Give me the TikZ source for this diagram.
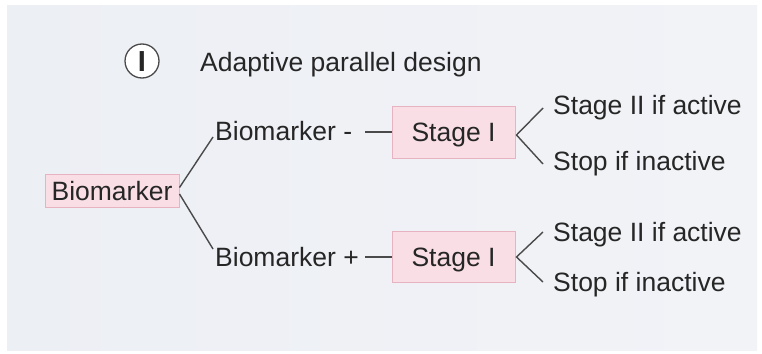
\documentclass[tikz,border=0pt]{standalone}
\usepackage{fontspec}
\setmainfont{Liberation Sans}
\definecolor{txt}{HTML}{262626}
\definecolor{linec}{HTML}{4A4A4A}
\definecolor{boxfill}{HTML}{F9DFE5}
\definecolor{boxline}{HTML}{E8B3C0}
\definecolor{bgl}{HTML}{ECEFF4}
\definecolor{bgr}{HTML}{F2F3F7}
\begin{document}
\begin{tikzpicture}[x=1pt,y=-1pt,
  every node/.style={font=\fontsize{26.5}{30}\selectfont, text=txt, text height=19pt, text depth=0pt},
  lbl/.style={anchor=west, inner sep=0pt},
  pinkbox/.style={draw=boxline, fill=boxfill, line width=1pt, inner sep=0pt},
  conn/.style={draw=linec, line width=1.4pt}]
\useasboundingbox (0,0) rectangle (762,353);
\fill[white] (0,0) rectangle (762,353);
\shade[left color=bgl, right color=bgr] (7,6) rectangle (757,350);

\node[circle, draw=linec, fill=white, line width=1.3pt, minimum size=34pt, inner sep=0pt, text height=21pt, font=\fontsize{29}{29}\selectfont\bfseries] (num) at (142,61) {I};
\node[lbl] (title) at (200,62) {Adaptive parallel design};

\node[pinkbox, minimum width=134pt, minimum height=33pt] (bio) at (112,190.5) {Biomarker};
\node[lbl] (bneg) at (215,131) {Biomarker -};
\node[lbl] (bpos) at (215,257) {Biomarker +};

\node[pinkbox, minimum width=123pt, minimum height=52pt] (s1) at (453.5,132) {Stage I};
\node[pinkbox, minimum width=123pt, minimum height=51pt] (s2) at (453.5,257) {Stage I};

\node[lbl] (a1) at (553,105) {Stage II if active};
\node[lbl] (i1) at (553,161) {Stop if inactive};
\node[lbl] (a2) at (553,232) {Stage II if active};
\node[lbl] (i2) at (553,282) {Stop if inactive};

\draw[conn] ([yshift=3pt]bio.east) -- ([xshift=-2pt,yshift=-6pt]bneg.west);
\draw[conn] ([yshift=-3.5pt]bio.east) -- ([xshift=-2pt,yshift=8pt]bpos.west);

\coordinate (d1) at (365,132);
\coordinate (d2) at (365,257);
\draw[conn] (d1) -- (s1.west);
\draw[conn] (d2) -- (s2.west);

\draw[conn] ([xshift=-10pt,yshift=-3pt]a1.west) -- ([xshift=1pt,yshift=-3pt]s1.east) -- ([xshift=-10pt,yshift=-3pt]i1.west);
\draw[conn] ([xshift=-10pt]a2.west) -- ([xshift=1pt]s2.east) -- ([xshift=-10pt]i2.west);
\end{tikzpicture}
\end{document}
